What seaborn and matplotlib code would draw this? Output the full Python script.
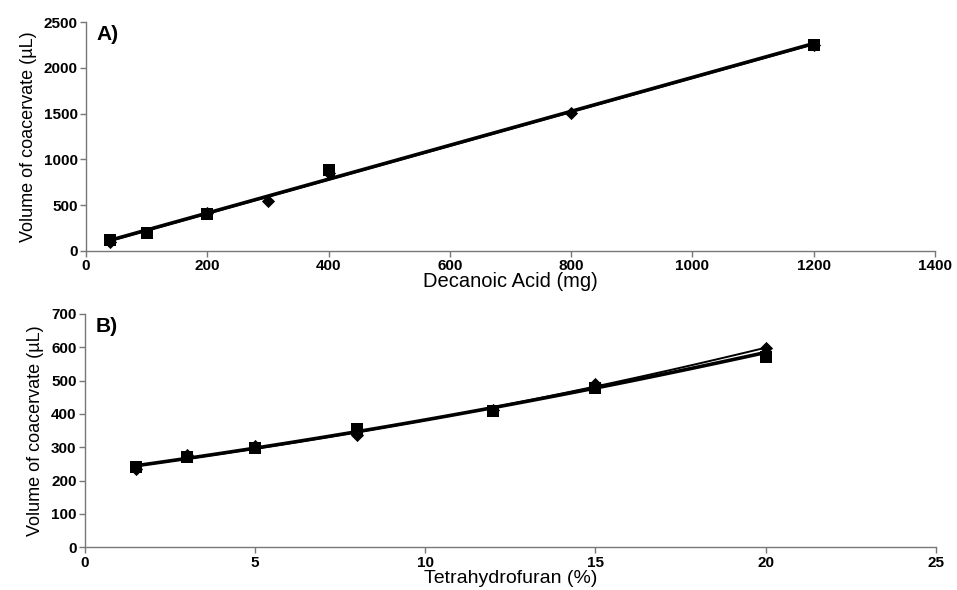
import matplotlib
matplotlib.use("Agg")
import matplotlib.pyplot as plt
import seaborn as sns
import pandas as pd

# Panel A: decanoic acid (mg) vs coacervate volume (uL)
acid_sq_x = [40, 100, 200, 400, 1200]
acid_sq_y = [115, 200, 400, 880, 2255]
acid_di_x = [40, 200, 300, 400, 800, 1200]
acid_di_y = [95, 410, 545, 855, 1510, 2250]

# Panel B: tetrahydrofuran (%) vs coacervate volume (uL)
thf_sq_x = [1.5, 3, 5, 8, 12, 15, 20]
thf_sq_y = [242, 270, 298, 355, 408, 478, 570]
thf_di_x = [1.5, 3, 5, 8, 12, 15, 20]
thf_di_y = [234, 276, 305, 338, 412, 490, 598]

sns.set_theme(style="white")
plt.rcParams["font.family"] = ["Liberation Sans", "DejaVu Sans"]
plt.rcParams["text.color"] = "black"
plt.rcParams["axes.labelcolor"] = "black"

fig = plt.figure(figsize=(9.57, 5.90), dpi=100)
ax_a = fig.add_axes([0.0899, 0.5746, 0.887, 0.388])
ax_b = fig.add_axes([0.0888, 0.0725, 0.889, 0.3953])


def draw_panel(ax, sq_x, sq_y, di_x, di_y, order):
    sq = pd.DataFrame({"x": sq_x, "y": sq_y})
    di = pd.DataFrame({"x": di_x, "y": di_y})
    both = pd.concat([sq, di])
    # points
    sns.scatterplot(data=sq, x="x", y="y", ax=ax, marker="s", color="black",
                    s=70, linewidth=0)
    sns.scatterplot(data=di, x="x", y="y", ax=ax, marker="D", color="black",
                    s=45, linewidth=0)
    # trend lines
    sns.regplot(data=both, x="x", y="y", ax=ax, order=order, ci=None,
                truncate=True, scatter=False, color="black",
                line_kws={"lw": 2.6})
    sns.regplot(data=di, x="x", y="y", ax=ax, order=order, ci=None,
                truncate=True, scatter=False, color="black",
                line_kws={"lw": 1.4})
    for side in ["top", "right"]:
        ax.spines[side].set_visible(False)
    for side in ["left", "bottom"]:
        ax.spines[side].set_color("#777777")
        ax.spines[side].set_linewidth(1.0)
    ax.tick_params(axis="both", direction="out", length=4, width=1.0,
                   color="#777777", labelsize=11, pad=2, labelcolor="black",
                   bottom=True, left=True)
    ax.set_ylabel("Volume of coacervate (µL)", fontsize=13, labelpad=5)


draw_panel(ax_a, acid_sq_x, acid_sq_y, acid_di_x, acid_di_y, 1)
ax_a.set_xlim(0, 1400)
ax_a.set_ylim(0, 2500)
ax_a.set_xticks(range(0, 1401, 200))
ax_a.set_yticks(range(0, 2501, 500))
for lab in ax_a.get_xticklabels() + ax_a.get_yticklabels():
    lab.set_fontweight("bold")
ax_a.set_xlabel("Decanoic Acid (mg)", fontsize=14.5, labelpad=-1)
ax_a.text(0.012, 0.985, "A)", transform=ax_a.transAxes, fontsize=15,
          fontweight="bold", va="top", ha="left")

draw_panel(ax_b, thf_sq_x, thf_sq_y, thf_di_x, thf_di_y, 2)
ax_b.set_xlim(0, 25)
ax_b.set_ylim(0, 700)
ax_b.set_xticks(range(0, 26, 5))
ax_b.set_yticks(range(0, 701, 100))
for lab in ax_b.get_xticklabels() + ax_b.get_yticklabels():
    lab.set_fontweight("bold")
ax_b.set_xlabel("Tetrahydrofuran (%)", fontsize=14, labelpad=0)
ax_b.text(0.012, 0.985, "B)", transform=ax_b.transAxes, fontsize=15,
          fontweight="bold", va="top", ha="left")

fig.savefig("out.png", dpi=100, facecolor="white")
